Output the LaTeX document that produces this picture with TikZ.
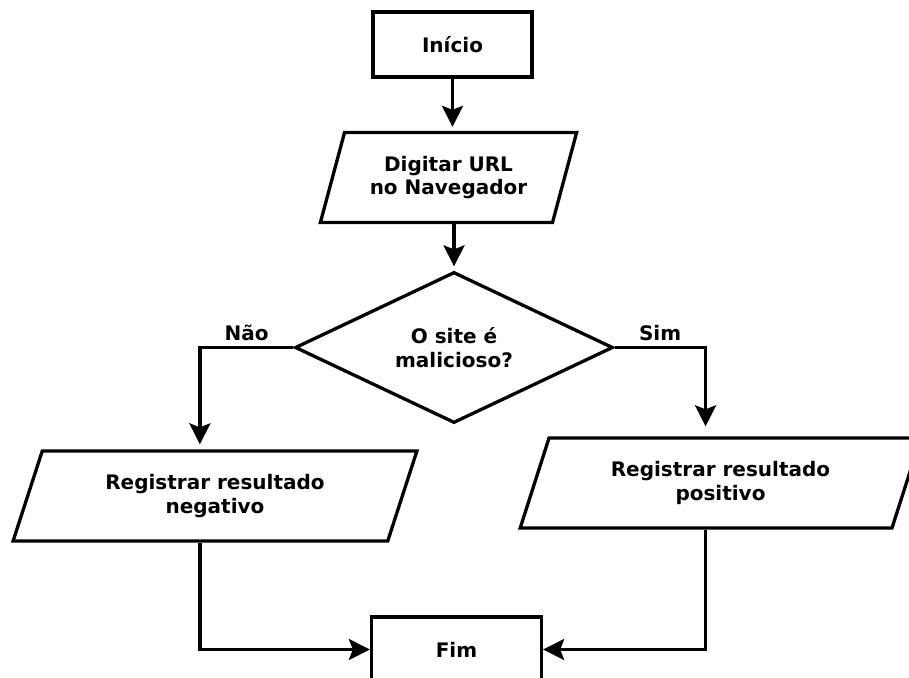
\documentclass[tikz,border=0pt]{standalone}
\usepackage{fontspec}
\setmainfont{DejaVu Sans}
\usetikzlibrary{shapes.geometric, arrows.meta, positioning}

\begin{document}
\begin{tikzpicture}[
    x=1pt, y=-1pt,
    line width=3.3pt,
    every node/.style={font=\bfseries\fontsize{20}{23.5}\selectfont, align=center},
    box/.style={draw, rectangle, minimum height=65pt},
    io/.style={draw, trapezium, trapezium left angle=69, trapezium right angle=111,
               trapezium stretches=true, minimum height=90pt},
    decision/.style={draw, diamond, aspect=2.1, minimum width=318pt, minimum height=151pt, inner sep=0pt},
    flow/.style={-{Stealth[length=21pt, width=21pt, inset=4pt]}},
    lbl/.style={above=2pt}
]

   \useasboundingbox (0,0) rectangle (909,677);

   % Nodes
   \node[box, minimum width=159pt] (inicio) at (452.5,44.5) {Início};
   \node[io, minimum width=257pt] (url) at (448.5,177.5) {Digitar URL\\no Navegador};
   \node[decision] (malicioso) at (454,347.5) {O site é\\malicioso?};
   \node[io, minimum width=404pt] (negativo) at (215,496) {Registrar resultado\\negativo};
   \node[io, minimum width=401pt] (positivo) at (720.5,483) {Registrar resultado\\positivo};
   \node[box, minimum width=170pt] (fim) at (456.5,649.5) {Fim};

   % Connectors
   \draw[flow, shorten >=4pt] (inicio.south) -- (inicio.south |- url.north);
   \draw[flow, shorten >=4pt] (malicioso.north |- url.south) -- (malicioso.north);

   \draw[flow, shorten >=5pt] (malicioso.west) -| node[lbl, pos=0.25] {Não} (negativo.bottom side |- negativo.north);
   \draw[flow, shorten >=10pt] (malicioso.east) -| node[lbl, pos=0.25] {Sim} (positivo.bottom side |- positivo.north);

   \draw[flow] (negativo.bottom side) |- (fim.west);
   \draw[flow] (positivo.bottom side) |- (fim.east);

\end{tikzpicture}
\end{document}
